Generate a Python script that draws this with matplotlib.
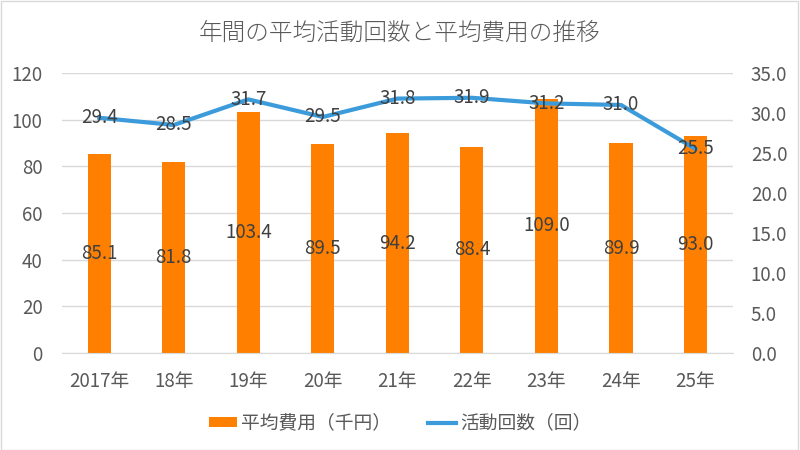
import matplotlib
matplotlib.use('Agg')
import matplotlib.pyplot as plt
from matplotlib.patches import Rectangle

plt.rcParams['font.family'] = ['Noto Sans CJK JP', 'DejaVu Sans']

years = ['2017年', '18年', '19年', '20年', '21年', '22年', '23年', '24年', '25年']
cost = [85.1, 81.8, 103.4, 89.5, 94.2, 88.4, 109.0, 89.9, 93.0]
count = [29.4, 28.5, 31.7, 29.5, 31.8, 31.9, 31.2, 31.0, 25.5]

bar_color = '#FF8000'
line_color = '#3B9BDB'
tick_color = '#595959'
label_color = '#404040'

fig = plt.figure(figsize=(8, 4.5), dpi=100)
ax = fig.add_axes([0.0775, 0.2156, 0.8385, 0.6222])
ax2 = ax.twinx()

x = list(range(len(years)))
bars = ax.bar(x, cost, width=0.31, color=bar_color, label='平均費用（千円）', zorder=2)
line, = ax2.plot(x, count, color=line_color, linewidth=3, label='活動回数（回）', zorder=3)

ax.set_xlim(-0.5, len(years) - 0.5)
ax.set_ylim(0, 120)
ax.set_yticks(range(0, 121, 20))
ax2.set_ylim(0, 35)
ax2.set_yticks([i * 5 for i in range(8)])
ax2.set_yticklabels([f'{i * 5:.1f}' for i in range(8)])
ax.set_xticks(x)
ax.set_xticklabels(years)

ax.grid(axis='y', color='#D9D9D9', linewidth=1, zorder=0)
ax.set_axisbelow(True)
for a in (ax, ax2):
    for s in a.spines.values():
        s.set_visible(False)
    a.tick_params(length=0, labelsize=13.5, colors=tick_color)
ax.spines['bottom'].set_visible(True)
ax.spines['bottom'].set_color('#D9D9D9')
ax.tick_params(axis='x', pad=13)
ax.tick_params(axis='y', pad=14)
ax2.tick_params(axis='y', pad=13)

# データラベル
for xi, v in zip(x, cost):
    ax.text(xi, v / 2, f'{v:.1f}', ha='center', va='center', fontsize=13.5, color=label_color, zorder=4)
for xi, v in zip(x, count):
    ax2.text(xi, v, f'{v:.1f}', ha='center', va='center', fontsize=13.5, color=label_color, zorder=4)

fig.suptitle('年間の平均活動回数と平均費用の推移', y=0.955, fontsize=17, color=tick_color,
             fontweight='light')

fig.legend(handles=[bars, line], loc='center', bbox_to_anchor=(0.5, 0.06), ncol=2,
           frameon=False, fontsize=13.5, labelcolor=tick_color, handlelength=1.5,
           handleheight=0.5, handletextpad=0.2, columnspacing=2.0)

fig.patches.append(Rectangle((0.001, 0.001), 0.997, 0.997, transform=fig.transFigure,
                             fill=False, edgecolor='#D9D9D9', linewidth=1))

fig.savefig('out.png', dpi=100)
